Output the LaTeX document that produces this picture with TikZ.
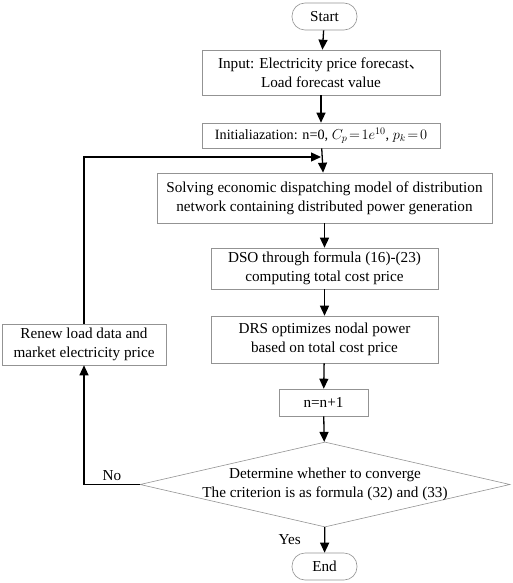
\documentclass[tikz,border=0pt]{standalone}
\usepackage{fontspec}
\setmainfont{Liberation Serif}
\newfontfamily\cjk{Noto Sans CJK SC}
\usetikzlibrary{shapes.geometric,arrows.meta}

\begin{document}
\begin{tikzpicture}[x=1pt,y=-1pt,
  font=\fontsize{15.2}{19}\selectfont,
  box/.style={draw=gray!85,line width=0.6pt,align=center,inner sep=0pt},
  term/.style={box,rounded corners=13pt,minimum width=65pt,minimum height=27pt},
  judgebox/.style={draw=gray!85,line width=0.6pt,shape=diamond,inner sep=0pt,
    minimum width=370pt,minimum height=85pt},
  flow/.style={line width=1.3pt,-{Triangle[length=10pt,width=9pt]}}]
\useasboundingbox (0,0) rectangle (512,583);
\node[term] (start) at (324.5,16.5) {Start};
\node[box,minimum width=238pt,minimum height=45pt] (input) at (321,72.5)
  {Input: Electricity price forecast{\cjk 、}\\Load forecast value};
\node[box,minimum width=238pt,minimum height=25pt,font=\fontsize{14.2}{18}\selectfont] (init) at (321,135.5)
  {Initialiazation: n=0, $C_p\!=\!1e^{10}$, $p_k\!=\!0$};
\node[box,minimum width=335pt,minimum height=50pt] (solve) at (324.5,198)
  {Solving economic dispatching model of distribution\\network containing distributed power generation};
\node[box,minimum width=227pt,minimum height=41pt] (dso) at (324.5,268.5)
  {DSO through formula (16)-(23)\\computing total cost price};
\node[box,minimum width=227pt,minimum height=47pt] (drs) at (324.5,339.5)
  {DRS optimizes nodal power\\based on total cost price};
\node[box,minimum width=164pt,minimum height=41pt] (renew) at (84,344.5)
  {Renew load data and\\market electricity price};
\node[box,minimum width=89pt,minimum height=27pt] (inc) at (323.5,402.5) {n=n+1};
\node[judgebox] (judge) at (325,484.5) {};
\node[align=center] (judgetxt) at (judge.center)
  {Determine whether to converge\\The criterion is as formula (32) and (33)};
\node[term] (end) at (324.5,566.5) {End};
\coordinate (merge) at (321,157);
\draw[flow] (start) -- (input);
\draw[flow] (input) -- (init);
\draw[flow] (init) -- (solve);
\draw[flow] (solve) -- (dso);
\draw[flow] (dso) -- (drs);
\draw[flow] (drs) -- (inc);
\draw[flow] (inc) -- (judge);
\draw[flow] (judge) -- node[left=20pt]{Yes} (end);
\draw[flow] (judge.west) -- node[above]{No} (judge.west -| renew) -- (renew);
\draw[flow] (renew) |- (merge);
\end{tikzpicture}
\end{document}
